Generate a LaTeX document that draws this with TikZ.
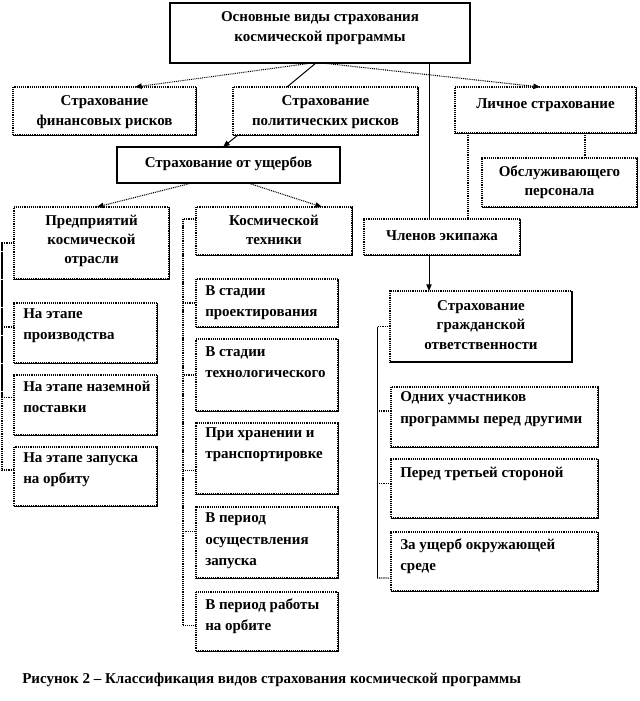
\documentclass[tikz,border=0pt]{standalone}
\usepackage{fontspec}
\setmainfont{Liberation Serif}
\usetikzlibrary{arrows.meta}
\newcommand{\mkbox}[6]{\node[#1, anchor=north west, minimum width={(#4-#2)*0.75pt}, minimum height={(#5-#3)*0.75pt}] (#6) at (#2,#3) {};}
\newcommand{\rbedge}[2]{\draw[#2] (#1.north east) -- (#1.south east) -- (#1.south west);}
\begin{document}
\begin{tikzpicture}[x=0.75pt,y=-0.75pt,
 dotbox/.style={draw, line width=0.8pt, dash pattern=on 0.7pt off 0.7pt, inner sep=0pt, outer sep=0pt},
 solidbox/.style={draw, line width=1.5pt, inner sep=0pt, outer sep=0pt},
 midbox/.style={draw, line width=1.1pt, inner sep=0pt, outer sep=0pt},
 edgeline/.style={line width=0.75pt},
 thickedge/.style={line width=1.3pt},
 txt/.style={font=\fontsize{11.25pt}{14.5pt}\selectfont\bfseries, align=center, inner sep=0pt},
 ltxt/.style={font=\fontsize{11.25pt}{16pt}\selectfont\bfseries, align=left, anchor=west, inner sep=0pt},
 dotline/.style={line width=0.8pt, dash pattern=on 0.7pt off 0.7pt},
 solline/.style={line width=0.75pt},
 tip/.style={-{Triangle[length=5pt,width=4pt]}},
]
\fill[white] (0,0) rectangle (640,701);
\useasboundingbox (0,0) rectangle (640,701);

% boxes
\mkbox{solidbox}{170}{3}{470}{63}{top}
\mkbox{dotbox}{13}{87}{196}{135}{fin}
\mkbox{dotbox}{233}{87}{418}{135}{pol}
\mkbox{dotbox}{455}{87}{636}{133}{lich}
\mkbox{midbox}{117}{147}{340}{183}{ush}
\mkbox{dotbox}{482}{158}{637}{207}{obs}
\mkbox{dotbox}{14}{207}{169}{279}{pred}
\mkbox{dotbox}{196}{207}{352}{255}{kos}
\mkbox{dotbox}{364}{219}{520}{255}{chl}
\mkbox{dotbox}{390}{291}{572}{362}{grazh}
\mkbox{dotbox}{14}{303}{157}{363}{l1}
\mkbox{dotbox}{14}{375}{157}{435}{l2}
\mkbox{dotbox}{14}{447}{157}{506}{l3}
\mkbox{dotbox}{196}{279}{338}{327}{m1}
\mkbox{dotbox}{196}{339}{338}{411}{m2}
\mkbox{dotbox}{196}{423}{338}{494}{m3}
\mkbox{dotbox}{196}{507}{338}{578}{m4}
\mkbox{dotbox}{196}{592}{338}{651}{m5}
\mkbox{dotbox}{391}{387}{598}{447}{r1}
\mkbox{dotbox}{391}{459}{598}{518}{r2}
\mkbox{dotbox}{391}{532}{598}{591}{r3}

\foreach \b in {fin,pol,lich,obs,pred,kos,chl,l1,l2,l3,m1,m2,m3,m4,m5,r1,r2,r3} {\rbedge{\b}{edgeline}}
\rbedge{grazh}{thickedge}
\rbedge{ush}{thickedge}

% texts
\node[txt] (top-t) at (320,28) {Основные виды страхования\\космической программы};
\node[txt] (fin-t) at (104.5,112) {Страхование\\финансовых рисков};
\node[txt] (pol-t) at (325.5,112) {Страхование\\политических рисков};
\node[txt] (lich-t) at (545.5,105) {Личное страхование};
\node[txt] (ush-t) at (228.5,164) {Страхование от ущербов};
\node[txt] (obs-t) at (559.5,182) {Обслуживающего\\персонала};
\node[txt] (pred-t) at (91.5,241) {Предприятий\\космической\\отрасли};
\node[txt] (kos-t) at (274,230) {Космической\\техники};
\node[txt] (chl-t) at (442,236) {Членов экипажа};
\node[txt] (grazh-t) at (481,325) {Страхование\\гражданской\\ответственности};

\node[ltxt] (l1-t) at (23,326) {На этапе\\производства};
\node[ltxt] (l2-t) at (23,397) {На этапе наземной\\поставки};
\node[ltxt] (l3-t) at (23,470) {На этапе запуска\\на орбиту};
\node[ltxt] (m1-t) at (205,303) {В стадии\\проектирования};
\node[ltxt] (m2-t) at (205,362) {В стадии\\технологического};
\node[ltxt] (m3-t) at (205,445) {При хранении и\\транспортировке};
\node[ltxt] (m4-t) at (205,541) {В период\\осуществления\\запуска};
\node[ltxt] (m5-t) at (205,616) {В период работы\\на орбите};
\node[ltxt] (r1-t) at (400,409) {Одних участников\\программы перед другими};
\node[ltxt] (r2-t) at (400,474) {Перед третьей стороной};
\node[ltxt] (r3-t) at (400,556) {За ущерб окружающей\\среде};

\node[ltxt] (cap) at (22,680) {Рисунок 2 – Классификация видов страхования космической программы};

% fan from top box
\draw[dotline,tip] ([xshift=-6pt]top.south) -- ([xshift=22.9pt]fin.north);
\draw[solline] ([xshift=-3pt]top.south) -- ([xshift=-28.9pt]pol.north);
\draw[dotline,tip] ([xshift=1.5pt]top.south) -- ([xshift=-4.1pt]lich.north);
% pol -> ush
\draw[solline,tip] ([xshift=3.75pt]pol.south west) -- ([xshift=-4.1pt]ush.north);
% fan from ush
\draw[dotline,tip] ([xshift=-27.4pt]ush.south) -- ([xshift=4.1pt]pred.north);
\draw[dotline,tip] ([xshift=14.6pt]ush.south) -- ([xshift=36pt]kos.north);

% vertical lines
\coordinate (cx) at ([xshift=-9.75pt]chl.north);
\draw[solline] (cx |- top.south) -- (cx);
\draw[solline,tip] (cx |- chl.south) -- (cx |- grazh.north);
\coordinate (lx) at ([xshift=19.5pt]chl.north);
\draw[dotline] (lx |- lich.south) -- (lx);
\coordinate (ox) at ([xshift=19.1pt]obs.north);
\draw[dotline] (ox |- lich.south) -- (ox);

% left bracket
\coordinate (lbr) at (2,243);
\draw[dotline] (pred.west) -- (lbr) |- ([yshift=4.9pt]l3.west);
\draw[dotline] (lbr) |- ([yshift=4.5pt]l1.west);
\draw[dotline] (lbr) |- ([yshift=5.3pt]l2.west);

% middle bracket
\coordinate (mbr) at (183,219);
\draw[dotline] ([yshift=9pt]kos.west) -- (mbr) |- ([yshift=-3pt]m5.west);
\draw[dotline] (mbr) |- (m1.west);
\draw[dotline] (mbr) |- (m2.west);
\draw[dotline] (mbr) |- ([yshift=-9pt]m3.west);
\draw[dotline] (mbr) |- ([yshift=8.6pt]m4.west);

% right bracket
\coordinate (rbr) at (377,326.5);
\coordinate (rbot) at (377,578);
\draw[dotline] (grazh.west) -- (rbr);
\draw[solline] (rbr) -- (rbot);
\draw[dotline] (rbr |- r1.west) ++(0,-6) -- ([yshift=4.5pt]r1.west);
\draw[dotline] (rbr |- r2.west) ++(0,-5) -- ([yshift=3.75pt]r2.west);
\draw[dotline] (rbot) -- ([yshift=-12.4pt]r3.west);
\end{tikzpicture}
\end{document}
